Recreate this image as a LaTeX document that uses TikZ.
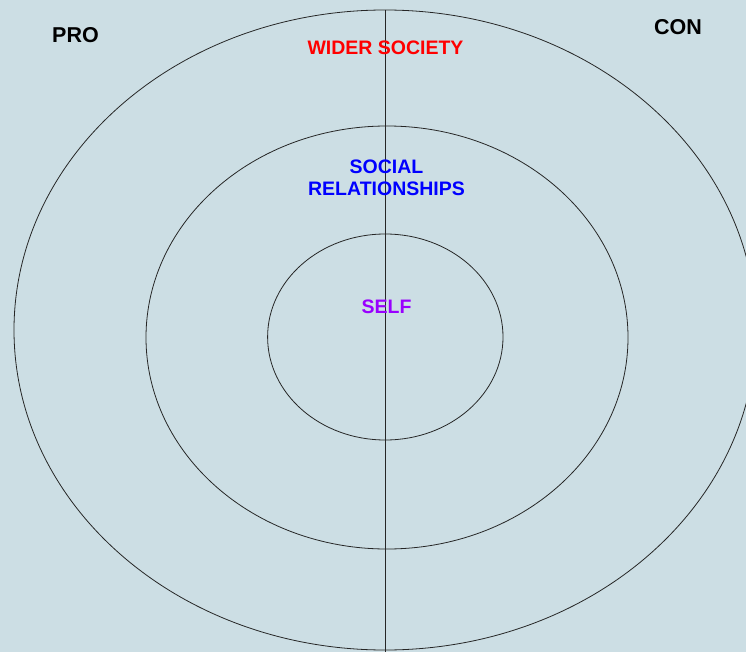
\documentclass[tikz,border=0pt]{standalone}
\usepackage{fontspec}
\setmainfont{Liberation Sans}
\definecolor{bgc}{RGB}{204,222,228}
\definecolor{selfc}{RGB}{153,0,255}
\begin{document}
\begin{tikzpicture}[x=1pt,y=-1pt,
  ring/.style={draw=black!85, line width=0.8pt},
  big/.style={font=\fontsize{21.5}{24}\selectfont\bfseries, inner sep=0pt},
  lab/.style={font=\fontsize{19.5}{22}\selectfont\bfseries, inner sep=0pt, align=center}]
\clip (0,0) rectangle (746,652);
\fill[bgc] (0,0) rectangle (746,652);
\draw[ring] (385,330) ellipse [x radius=371, y radius=320];
\draw[ring] (387,337.5) ellipse [x radius=241, y radius=211.5];
\draw[ring] (385.3,337) ellipse [x radius=117.7, y radius=103];
\coordinate (top) at (385,10);
\coordinate (bot) at (385,652);
\draw[ring] (top) -- (bot);
\node[big] (pro) at (75.5,35) {PRO};
\node[big] (con) at (678,27) {CON};
\node[lab, text=red] (wider) at (385.5,48) {WIDER SOCIETY};
\node[lab, text=blue] (social) at (386.5,178) {SOCIAL\\RELATIONSHIPS};
\node[lab, text=selfc] (self) at (386.5,307) {SELF};
\end{tikzpicture}
\end{document}
